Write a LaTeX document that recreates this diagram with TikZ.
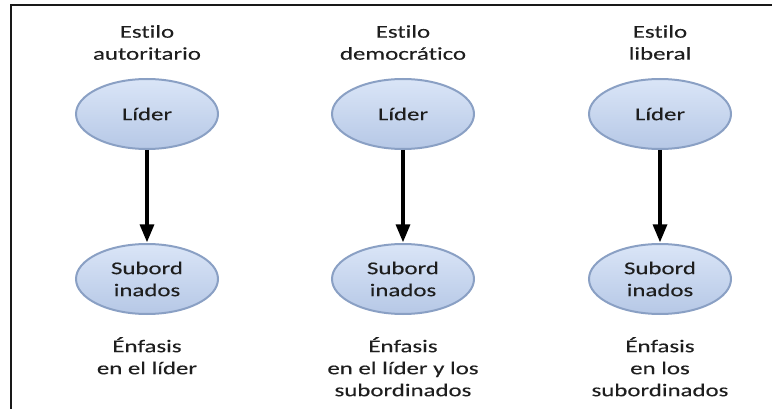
\documentclass[tikz,border=0pt]{standalone}
\usepackage{fontspec}
\setmainfont[FakeStretch=1.38,FakeBold=0.15,Ligatures=NoCommon]{Carlito}
\usepackage{tikz}
\usetikzlibrary{arrows,shapes.geometric}
\definecolor{elipsup}{RGB}{218,229,247}
\definecolor{elipinf}{RGB}{182,200,230}
\definecolor{elipborde}{RGB}{138,160,196}
\definecolor{textogris}{RGB}{30,30,30}
\begin{document}
\begin{tikzpicture}[x=1pt,y=-1pt,font=\fontsize{18}{22}\selectfont,
  elipse/.style={shape=ellipse,draw=elipborde,line width=2pt,top color=elipsup,bottom color=elipinf,minimum width=142pt,minimum height=70pt,inner sep=0pt,align=center,text=textogris},
  titulo/.style={anchor=north,inner sep=0pt,align=center,text=textogris},
  flecha/.style={->,>=triangle 45,line width=3.2pt,shorten >=1pt}]
\useasboundingbox (0,0) rectangle (772,409);
\draw[line width=2pt,color=black!90] (11,409)--(11,5)--(772,5);
\node(tit1)[titulo] at (147,25){Estilo\\autoritario};
\node(tit2)[titulo] at (403,25){Estilo\\democrático};
\node(tit3)[titulo] at (660,25){Estilo\\liberal};
\node(lid1)[elipse] at (147,114){Líder};
\node(lid2)[elipse] at (403,114){Líder};
\node(lid3)[elipse] at (660,114){Líder};
\node(sub1)[elipse] at (147,279){Subord\\inados};
\node(sub2)[elipse] at (403,279){Subord\\inados};
\node(sub3)[elipse] at (660,279){Subord\\inados};
\node(enf1)[titulo] at (147,337){Énfasis\\en el líder};
\node(enf2)[titulo] at (403,337){Énfasis\\en el líder y los\\subordinados};
\node(enf3)[titulo] at (660,337){Énfasis\\en los\\subordinados};
\draw[flecha] (lid1)--(sub1);
\draw[flecha] (lid2)--(sub2);
\draw[flecha] (lid3)--(sub3);
\end{tikzpicture}
\end{document}
